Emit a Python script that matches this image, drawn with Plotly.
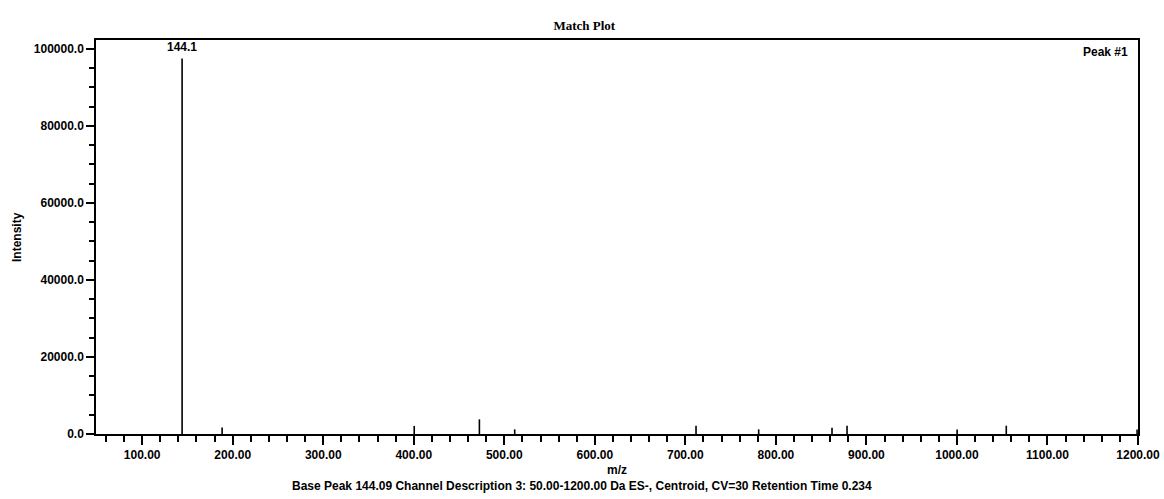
import plotly.graph_objects as go

# Peak list (m/z, intensity)
mz = [144.1, 188.3, 400.5, 472.5, 511.5, 711.8, 781.0, 862.0, 878.6, 1000.2, 1054.5, 1199.0]
intensity = [97500, 1700, 2100, 3800, 1200, 2150, 1200, 1600, 2150, 1200, 2150, 1200]

base_peak_label = "144.1"
title_text = "Match Plot"
footer_text = ("Base Peak 144.09 Channel Description 3: 50.00-1200.00 Da ES-, "
               "Centroid, CV=30 Retention Time 0.234")

xs, ys = [], []
for m, h in zip(mz, intensity):
    xs += [m, m, None]
    ys += [0, h, None]

FONT = "Arial, Liberation Sans, sans-serif"
fs = 12
TF = dict(family=FONT, size=fs, color="black", weight="bold")

fig = go.Figure()
fig.add_trace(go.Scatter(x=xs, y=ys, mode="lines",
                         line=dict(color="black", width=1.6),
                         hoverinfo="skip", showlegend=False))

fig.update_layout(
    width=1164, height=499, autosize=False,
    margin=dict(l=96, r=26, t=40, b=65),
    paper_bgcolor="white", plot_bgcolor="white",
    font=TF,
    showlegend=False,
    title=dict(text=title_text, x=0.502, xref="container", xanchor="center",
               y=1 - 25 / 499, yref="container", yanchor="middle",
               font=dict(family="Liberation Serif, Times New Roman, serif", size=13, color="black",
                         weight="bold")),
)

fig.update_xaxes(
    range=[49, 1200], showgrid=False, zeroline=False, automargin=False,
    showline=True, linecolor="black", linewidth=1.5, mirror=True,
    ticks="outside", ticklen=9, tickwidth=1.5, tickcolor="black",
    tick0=0, dtick=100, tickformat=".2f",
    tickfont=TF,
    minor=dict(ticks="outside", ticklen=6, tickwidth=1.5, tickcolor="black",
               tick0=0, dtick=20, showgrid=False),
)
fig.update_yaxes(
    range=[0, 102300], showgrid=False, zeroline=False, automargin=False,
    showline=True, linecolor="black", linewidth=1.5, mirror=True,
    ticks="outside", ticklen=8, tickwidth=1.5, tickcolor="black",
    tick0=0, dtick=20000, tickformat=".1f",
    tickfont=TF,
    minor=dict(ticks="outside", ticklen=5, tickwidth=1.5, tickcolor="black",
               tick0=0, dtick=5000, showgrid=False),
)

# base peak label
fig.add_annotation(x=mz[0], y=intensity[0], text=base_peak_label, showarrow=False,
                   xanchor="center", yanchor="bottom", yshift=2, font=TF)
# Peak #1
fig.add_annotation(x=1, y=1, xref="paper", yref="paper", text="Peak #1", showarrow=False,
                   xanchor="right", yanchor="top", xshift=-8, yshift=-3, font=TF)
# axis titles
fig.add_annotation(x=0.5, y=(434 - 470) / 394, xref="paper", yref="paper", text="m/z",
                   showarrow=False, xanchor="center", yanchor="middle", font=TF)
fig.add_annotation(x=(17 - 96) / 1042, y=0.5, xref="paper", yref="paper", text="Intensity",
                   showarrow=False, textangle=-90, xanchor="center", yanchor="middle", font=TF)
# footer
fig.add_annotation(x=(582 - 96) / 1042, y=(434 - 486) / 394, xref="paper", yref="paper",
                   text=footer_text, showarrow=False, xanchor="center", yanchor="middle",
                   font=TF)

fig.write_html("out.html",
               config={"responsive": False, "displayModeBar": False},
               post_script="document.body.style.margin='0';document.body.style.overflow='hidden';")
